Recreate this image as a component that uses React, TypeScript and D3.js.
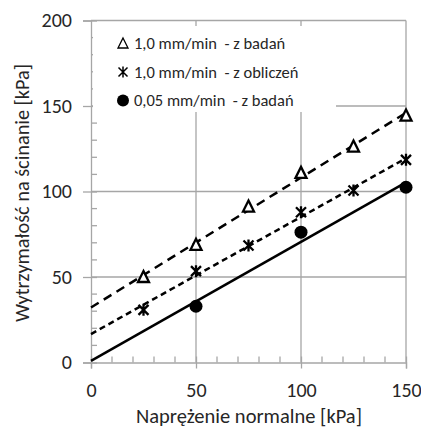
import * as d3 from "d3";
import React, { useRef, useEffect } from "react";

// dane
const naprezenieTri = [25, 50, 75, 100, 125, 150];
const badania10 = [50, 68.8, 91.2, 110.9, 126.3, 144.4];

const naprezenieStar = [25, 50, 75, 100, 125, 150];
const obliczenia10 = [30.8, 53.4, 68.4, 87.9, 100.6, 118.5];

const naprezenieCircle = [50, 100, 150];
const badania005 = [32.9, 76.2, 102.5];

const xTicks = [0, 50, 100, 150];
const yTicks = [0, 50, 100, 150, 200];

const legendLabels = [
  "1,0 mm/min  - z badań",
  "1,0 mm/min  - z obliczeń",
  "0,05 mm/min  - z badań",
];

const FONT = "Carlito, Calibri, 'Open Sans', sans-serif";
const TXT = "#262626";

// linia trendu (najmniejsze kwadraty)
function trend(xs: number[], ys: number[]) {
  const mx = d3.mean(xs) as number;
  const my = d3.mean(ys) as number;
  let sxy = 0;
  let sxx = 0;
  xs.forEach((x, i) => {
    sxy += (x - mx) * (ys[i] - my);
    sxx += (x - mx) * (x - mx);
  });
  const b = sxy / sxx;
  const a = my - b * mx;
  return [0, 150].map((x) => ({ x, y: a + b * x }));
}

const Chart = () => {
  const ref = useRef<SVGSVGElement>(null);

  useEffect(() => {
    if (!ref.current) return;
    const svg = d3.select(ref.current);
    svg.selectAll("*").remove();

    const x = d3.scaleLinear().domain([0, 150]).range([91, 406]);
    const y = d3.scaleLinear().domain([0, 200]).range([362.5, 20.5]);
    const grid = "#a6a6a6";

    // siatka
    svg
      .append("g")
      .selectAll("line")
      .data(yTicks.slice(1))
      .enter()
      .append("line")
      .attr("x1", x(0))
      .attr("x2", x(150))
      .attr("y1", (d) => y(d))
      .attr("y2", (d) => y(d))
      .attr("stroke", grid)
      .attr("stroke-width", 1.3);

    svg
      .append("g")
      .selectAll("line")
      .data(xTicks.slice(1))
      .enter()
      .append("line")
      .attr("x1", (d) => x(d))
      .attr("x2", (d) => x(d))
      .attr("y1", y(0))
      .attr("y2", y(200))
      .attr("stroke", grid)
      .attr("stroke-width", 1.3);

    // osie
    const yAxis = svg
      .append("g")
      .attr("transform", `translate(${x(0)},0)`)
      .call(d3.axisLeft(y).tickValues(yTicks).tickSize(8).tickPadding(11));
    yAxis.select(".domain").attr("stroke", grid).attr("stroke-width", 1.3);
    yAxis
      .selectAll(".tick line")
      .attr("x1", 6)
      .attr("stroke", grid)
      .attr("stroke-width", 1.3);
    yAxis
      .selectAll(".tick text")
      .style("font-family", FONT)
      .style("font-size", "20px")
      .attr("fill", TXT);

    const xAxis = svg
      .append("g")
      .attr("transform", `translate(0,${y(0)})`)
      .call(d3.axisBottom(x).tickValues(xTicks).tickSize(6).tickPadding(14));
    xAxis.select(".domain").attr("stroke", grid).attr("stroke-width", 1.3);
    xAxis
      .selectAll(".tick line")
      .attr("y1", -6)
      .attr("stroke", grid)
      .attr("stroke-width", 1.3);
    xAxis
      .selectAll(".tick text")
      .style("font-family", FONT)
      .style("font-size", "20px")
      .attr("fill", TXT);

    // drobne podziałki (do środka)
    svg
      .append("g")
      .selectAll("line")
      .data(d3.range(10, 200, 10).filter((v) => v % 50 !== 0))
      .enter()
      .append("line")
      .attr("x1", x(0))
      .attr("x2", x(0) + 6)
      .attr("y1", (d) => y(d))
      .attr("y2", (d) => y(d))
      .attr("stroke", grid)
      .attr("stroke-width", 1.3);

    svg
      .append("g")
      .selectAll("line")
      .data(d3.range(10, 150, 10).filter((v) => v % 50 !== 0))
      .enter()
      .append("line")
      .attr("x1", (d) => x(d))
      .attr("x2", (d) => x(d))
      .attr("y1", y(0))
      .attr("y2", y(0) - 6)
      .attr("stroke", grid)
      .attr("stroke-width", 1.3);

    // tytuły osi
    svg
      .append("text")
      .attr("x", 249)
      .attr("y", 423)
      .attr("text-anchor", "middle")
      .style("font-family", FONT)
      .style("font-size", "20.5px")
      .attr("fill", TXT)
      .text("Naprężenie normalne [kPa]");

    svg
      .append("text")
      .attr("transform", "translate(29,193) rotate(-90)")
      .attr("text-anchor", "middle")
      .attr("textLength", 258)
      .attr("lengthAdjust", "spacingAndGlyphs")
      .style("font-family", FONT)
      .style("font-size", "20px")
      .attr("fill", TXT)
      .text("Wytrzymałość na ścinanie [kPa]");

    // legenda (białe tło)
    svg
      .append("rect")
      .attr("x", 93)
      .attr("y", 26)
      .attr("width", 243)
      .attr("height", 86)
      .attr("fill", "#fff");

    const line = d3
      .line<{ x: number; y: number }>()
      .x((d) => x(d.x))
      .y((d) => y(d.y));

    // linie trendu
    svg
      .append("path")
      .datum(trend(naprezenieTri, badania10))
      .attr("fill", "none")
      .attr("stroke", "#000")
      .attr("stroke-width", 2.5)
      .attr("stroke-dasharray", "9,6")
      .attr("d", line);

    svg
      .append("path")
      .datum(trend(naprezenieStar, obliczenia10))
      .attr("fill", "none")
      .attr("stroke", "#000")
      .attr("stroke-width", 2.5)
      .attr("stroke-dasharray", "6,4")
      .attr("d", line);

    svg
      .append("path")
      .datum(trend(naprezenieCircle, badania005))
      .attr("fill", "none")
      .attr("stroke", "#000")
      .attr("stroke-width", 2.5)
      .attr("d", line);

    // markery
    const triangle = (cx: number, cy: number) =>
      `M${cx},${cy - 6}L${cx + 5.5},${cy + 5}L${cx - 5.5},${cy + 5}Z`;
    const star = (cx: number, cy: number) =>
      `M${cx - 5},${cy - 5}L${cx + 5},${cy + 5}M${cx + 5},${cy - 5}L${cx - 5},${cy + 5}M${cx},${cy - 6}L${cx},${cy + 6}`;

    svg
      .append("g")
      .selectAll("path")
      .data(naprezenieTri)
      .enter()
      .append("path")
      .attr("d", (d, i) => triangle(x(d), y(badania10[i])))
      .attr("fill", "#fff")
      .attr("stroke", "#000")
      .attr("stroke-width", 2.3);

    svg
      .append("g")
      .selectAll("path")
      .data(naprezenieStar)
      .enter()
      .append("path")
      .attr("d", (d, i) => star(x(d), y(obliczenia10[i])))
      .attr("fill", "none")
      .attr("stroke", "#000")
      .attr("stroke-width", 2.3);

    svg
      .append("g")
      .selectAll("circle")
      .data(naprezenieCircle)
      .enter()
      .append("circle")
      .attr("cx", (d) => x(d))
      .attr("cy", (d, i) => y(badania005[i]))
      .attr("r", 6.5)
      .attr("fill", "#000");

    // wpisy legendy
    const legend = svg
      .selectAll(".legend")
      .data(legendLabels)
      .enter()
      .append("g")
      .attr("class", "legend")
      .attr("transform", (d, i) => `translate(123,${43.5 + i * 28.5})`);

    legend.each(function (d, i) {
      const g = d3.select(this);
      if (i === 0) {
        g.append("path")
          .attr("d", `M0,-5.5L5,4.5L-5,4.5Z`)
          .attr("fill", "none")
          .attr("stroke", "#000")
          .attr("stroke-width", 1.3);
      } else if (i === 1) {
        g.append("path")
          .attr("d", `M-4.5,-4.5L4.5,4.5M4.5,-4.5L-4.5,4.5M0,-5.5L0,5.5`)
          .attr("stroke", "#000")
          .attr("stroke-width", 1.5);
      } else {
        g.append("circle").attr("r", 6).attr("fill", "#000");
      }
    });

    legend
      .append("text")
      .attr("x", 11)
      .attr("dy", "0.35em")
      .style("font-family", FONT)
      .style("font-size", "16.5px")
      .attr("fill", TXT)
      .text((d) => d)
      .attr("xml:space", "preserve")
      .style("white-space", "pre");
  }, []);

  return (
    <svg
      ref={ref}
      width={421}
      height={430}
      style={{ position: "absolute", left: 0, top: 0, background: "#fff" }}
    />
  );
};

export default function App() {
  return <Chart />;
}
